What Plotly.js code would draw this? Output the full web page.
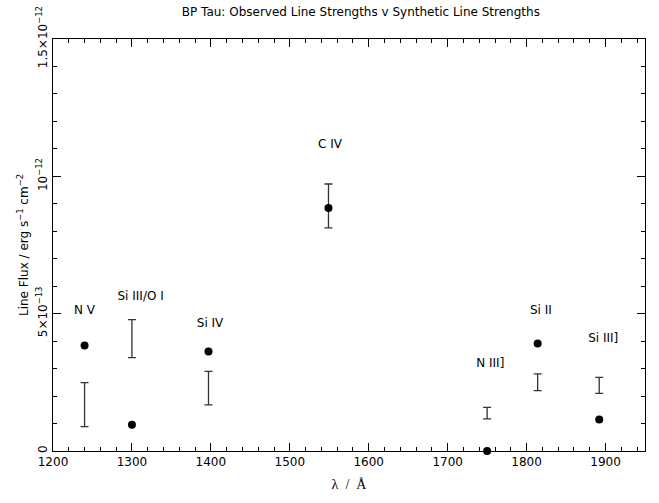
<!DOCTYPE html>
<html>
<head>
<meta charset="utf-8">
<script src="https://cdn.plot.ly/plotly-3.0.1.min.js"></script>
<style>html,body{margin:0;padding:0;background:#fff;}#chart{width:659px;height:503px;}</style>
</head>
<body>
<div id="chart"></div>
<script>
// Line identifiers
var lines = ["N V", "Si III/O I", "Si IV", "C IV", "N III]", "Si II", "Si III]"];
// Wavelengths (Å)
var wavelengths = [1240, 1300, 1397, 1549, 1750, 1814, 1892];
// Observed line flux (erg s^-1 cm^-2)
var observed = [3.84e-13, 0.96e-13, 3.62e-13, 8.85e-13, 0.0, 3.91e-13, 1.15e-13];
// Synthetic line strength range: low and high
var synthLow  = [0.89e-13, 3.40e-13, 1.68e-13, 8.12e-13, 1.17e-13, 2.20e-13, 2.10e-13];
var synthHigh = [2.49e-13, 4.78e-13, 2.90e-13, 9.72e-13, 1.59e-13, 2.81e-13, 2.68e-13];
// Label positions
var labelX = [1240, 1311, 1399, 1551, 1754, 1818, 1897];
var labelY = [5.11e-13, 5.62e-13, 4.64e-13, 11.15e-13, 3.15e-13, 5.11e-13, 4.09e-13];
// Axis ticks
var yTickVals = [0, 5e-13, 1e-12, 1.5e-12];
var yTickText = ["0", "5×10<sup>−13</sup>", "10<sup>−12</sup>", "1.5×10<sup>−12</sup>"];
var xTickVals = [1200, 1300, 1400, 1500, 1600, 1700, 1800, 1900];

var synthMid = synthLow.map(function(v, i){ return (v + synthHigh[i]) / 2; });
var synthHalf = synthLow.map(function(v, i){ return (synthHigh[i] - v) / 2; });

var font = {family: "DejaVu Sans, Verdana, sans-serif", size: 12, color: "#000"};
var serif = {family: "Liberation Serif, DejaVu Serif, serif", size: 14, color: "#000"};

var traces = [
  {
    x: wavelengths, y: synthMid, type: "scatter", mode: "markers",
    marker: {size: 0.1, color: "rgba(0,0,0,0)"},
    error_y: {type: "data", array: synthHalf, visible: true, color: "#333", thickness: 1.3, width: 4},
    hoverinfo: "skip", showlegend: false, cliponaxis: false
  },
  {
    x: wavelengths, y: observed, type: "scatter", mode: "markers",
    marker: {size: 8, color: "#000"}, showlegend: false, cliponaxis: false
  },
  {
    x: labelX, y: labelY, type: "scatter", mode: "text", text: lines,
    textfont: font, textposition: "middle center", showlegend: false, hoverinfo: "skip"
  }
];

var axisCommon = {
  showline: true, linecolor: "#000", linewidth: 1, mirror: "ticks",
  ticks: "inside", ticklen: 8, tickwidth: 1, tickcolor: "#000",
  showgrid: false, zeroline: false, tickfont: font
};

var layout = {
  width: 659, height: 503,
  margin: {l: 53, r: 14, t: 39, b: 51.5},
  paper_bgcolor: "#fff", plot_bgcolor: "#fff",
  font: font,
  title: {text: "BP Tau: Observed Line Strengths v Synthetic Line Strengths", font: font, x: 0.52, xref: "paper", y: 0.985, yanchor: "top"},
  xaxis: Object.assign({}, axisCommon, {
    range: [1200, 1950], tickmode: "array", tickvals: xTickVals, ticktext: xTickVals.map(String),
    minor: {dtick: 20, ticks: "inside", ticklen: 4, tickcolor: "#000", showgrid: false},
    title: {text: "λ  /  Å", font: serif, standoff: 10}
  }),
  yaxis: Object.assign({}, axisCommon, {
    range: [0, 1.5e-12], tickmode: "array", tickvals: yTickVals, ticktext: yTickText,
    tickangle: -90,
    minor: {dtick: 1e-13, ticks: "inside", ticklen: 4, tickcolor: "#000", showgrid: false},
    title: {text: "Line Flux / erg s<sup>−1</sup> cm<sup>−2</sup>", font: font, standoff: 2}
  })
};

Plotly.newPlot("chart", traces, layout, {staticPlot: true});
</script>
</body>
</html>
